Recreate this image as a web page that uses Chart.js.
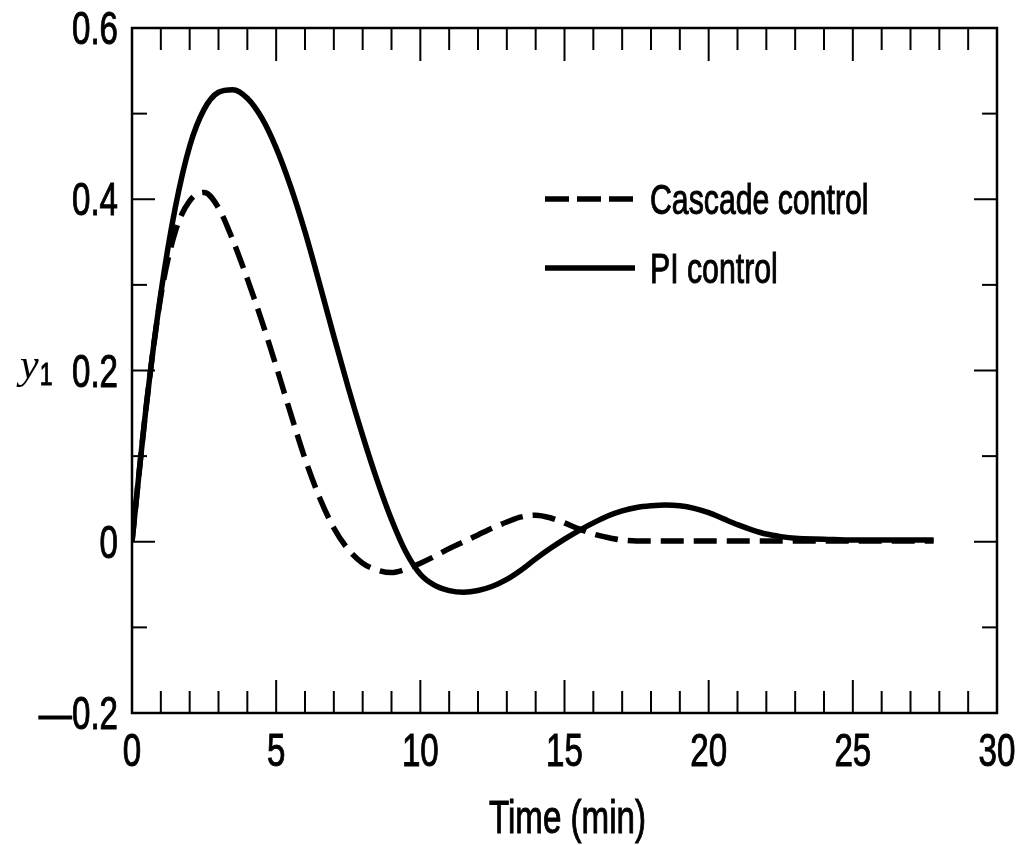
<!DOCTYPE html>
<html>
<head>
<meta charset="utf-8">
<script src="https://cdn.jsdelivr.net/npm/chart.js@4.4.1/dist/chart.umd.min.js"></script>
<style>
  html, body { margin: 0; padding: 0; background: #fff; }
  #wrap { width: 1024px; height: 845px; }
</style>
</head>
<body>
<div id="wrap"><canvas id="c" width="1024" height="845"></canvas></div>
<script>
// Response of y1 to a disturbance: cascade vs. PI control
const timeMin = [0, 0.5, 1, 1.5, 2, 2.5, 3, 3.5, 4, 4.5, 5, 5.5, 6, 6.5, 7, 7.5, 8, 8.5, 9, 9.5,
  10, 10.5, 11, 11.5, 12, 12.5, 13, 13.5, 14, 14.5, 15, 15.5, 16, 16.5, 17, 17.5, 18, 18.5, 19, 19.5,
  20, 20.5, 21, 21.5, 22, 22.5, 23, 24, 25, 26, 27, 27.8];

const piControl = [0, 0.16, 0.29, 0.39, 0.462, 0.505, 0.525, 0.528, 0.518, 0.495, 0.46, 0.415, 0.362, 0.302, 0.240, 0.180, 0.124, 0.072, 0.026, -0.012,
  -0.038, -0.051, -0.057, -0.059, -0.057, -0.052, -0.044, -0.033, -0.020, -0.008, 0.003, 0.013, 0.022, 0.030, 0.036, 0.040, 0.042, 0.043, 0.042, 0.039,
  0.034, 0.027, 0.020, 0.014, 0.009, 0.006, 0.004, 0.003, 0.002, 0.002, 0.002, 0.002];

const cascadeControl = [0, 0.16, 0.287, 0.362, 0.398, 0.408, 0.39, 0.352, 0.307, 0.258, 0.205, 0.150, 0.097, 0.052, 0.016, -0.009, -0.025, -0.033, -0.036, -0.032,
  -0.025, -0.017, -0.008, 0, 0.008, 0.016, 0.023, 0.029, 0.031, 0.028, 0.022, 0.015, 0.009, 0.005, 0.002, 0.001, 0.001, 0.001, 0.001, 0.001,
  0.001, 0.001, 0.001, 0.001, 0.001, 0.001, 0.001, 0.001, 0.001, 0.001, 0.001, 0.001];

const seriesLabels = ['Cascade control', 'PI control'];
const xTickValues = [0, 5, 10, 15, 20, 25, 30];
const xTickLabels = ['0', '5', '10', '15', '20', '25', '30'];
const yTickValues = [-0.2, 0, 0.2, 0.4, 0.6];
const yTickLabels = ['\u20140.2', '0', '0.2', '0.4', '0.6'];
const xTitle = 'Time (min)';
const yTitle = ['y', '1'];

const SANS = '"Liberation Sans", Arial, Helvetica, sans-serif';
const SERIF = '"Liberation Serif", "DejaVu Serif", serif';

const toPoints = ys => timeMin.map((t, i) => ({ x: t, y: ys[i] }));

// Narrow-set text: the face is squeezed horizontally by sx and lightly stroked for weight
function narrowText(ctx, text, x, y, align, font, sx, weight) {
  ctx.save();
  ctx.font = font;
  ctx.fillStyle = '#000';
  ctx.strokeStyle = '#000';
  ctx.textAlign = align;
  ctx.textBaseline = 'alphabetic';
  ctx.translate(x, y);
  ctx.scale(sx, 1);
  ctx.fillText(text, 0, 0);
  if (weight) {
    ctx.lineWidth = weight;
    ctx.strokeText(text, 0, 0);
  }
  ctx.restore();
}

// Ticks pointing into the plot on all four sides, plus the frame
const inwardTicks = {
  id: 'inwardTicks',
  afterDraw(chart, args, o) {
    const { ctx, chartArea: a, scales: { x, y } } = chart;
    ctx.save();
    ctx.strokeStyle = '#000';
    ctx.lineCap = 'butt';
    ctx.lineWidth = o.tickWidth;
    const seg = (x0, y0, x1, y1) => { ctx.beginPath(); ctx.moveTo(x0, y0); ctx.lineTo(x1, y1); ctx.stroke(); };
    const isMajor = (v, step) => Math.abs(v / step - Math.round(v / step)) < 1e-6;
    for (let k = 0; ; k++) {
      const v = x.min + k * o.xMinor;
      if (v > x.max + 1e-9) break;
      const px = x.getPixelForValue(v);
      const len = isMajor(v, o.xMajor) ? o.xMajorLen : o.xMinorLen;
      seg(px, a.bottom, px, a.bottom - len);
      seg(px, a.top, px, a.top + len);
    }
    for (let k = 0; ; k++) {
      const v = y.min + k * o.yMinor;
      if (v > y.max + 1e-9) break;
      const py = y.getPixelForValue(v);
      const len = isMajor(v + 1e-12, o.yMajor) ? o.yMajorLen : o.yMinorLen;
      seg(a.left, py, a.left + len, py);
      seg(a.right, py, a.right - len, py);
    }
    ctx.lineWidth = o.frameWidth;
    ctx.strokeRect(a.left, a.top, a.width, a.height);
    ctx.restore();
  }
};

// Tick labels and axis titles, placed from the scales
const axisText = {
  id: 'axisText',
  afterDraw(chart, args, o) {
    const { ctx, chartArea: a, scales: { x, y } } = chart;
    x.ticks.forEach((t, i) => {
      narrowText(ctx, xTickLabels[i], x.getPixelForValue(t.value), a.bottom + o.xLabelDrop, 'center', o.tickFont, o.sx, o.weight);
    });
    y.ticks.forEach((t, i) => {
      narrowText(ctx, yTickLabels[i], a.left - o.yLabelGap, y.getPixelForValue(t.value) + o.yLabelShift, 'right', o.tickFont, o.sx, o.weight);
    });
    narrowText(ctx, xTitle, (a.left + a.right) / 2 + o.titleShift, o.titleBaseline, 'center', o.titleFont, o.sx, o.weight);

    // y with subscript 1
    ctx.save();
    ctx.fillStyle = '#000';
    ctx.textBaseline = 'alphabetic';
    ctx.textAlign = 'left';
    ctx.font = o.symFont;
    ctx.fillText(yTitle[0], o.symX, o.symBaseline);
    const w = ctx.measureText(yTitle[0]).width;
    ctx.restore();
    narrowText(ctx, yTitle[1], o.symX + w + o.subGap, o.symBaseline + o.subDrop, 'left', o.subFont, o.sx, o.weight);
  }
};

// Legend drawn inside the plot area
const insetLegend = {
  id: 'insetLegend',
  afterDraw(chart, args, o) {
    const { ctx } = chart;
    chart.data.datasets.forEach((ds, i) => {
      const yy = o.rows[i];
      ctx.save();
      ctx.strokeStyle = ds.borderColor;
      ctx.lineWidth = ds.borderWidth;
      ctx.setLineDash(ds.borderDash && ds.borderDash.length ? o.dash : []);
      ctx.beginPath();
      ctx.moveTo(o.lineX0, yy);
      ctx.lineTo(o.lineX1, yy);
      ctx.stroke();
      ctx.restore();
      narrowText(ctx, ds.label, o.textX, yy + o.textDrop, 'left', o.font, o.sx, o.weight);
    });
  }
};

new Chart(document.getElementById('c'), {
  type: 'line',
  data: {
    datasets: [
      {
        label: seriesLabels[0],
        data: toPoints(cascadeControl),
        borderColor: '#000',
        borderWidth: 5.5,
        borderDash: [23, 10],
        pointRadius: 0,
        cubicInterpolationMode: 'monotone',
        fill: false
      },
      {
        label: seriesLabels[1],
        data: toPoints(piControl),
        borderColor: '#000',
        borderWidth: 5.5,
        borderDash: [],
        pointRadius: 0,
        cubicInterpolationMode: 'monotone',
        fill: false
      }
    ]
  },
  options: {
    responsive: false,
    animation: false,
    devicePixelRatio: 1,
    layout: { padding: { left: 0, right: 27, top: 28, bottom: 0 } },
    plugins: {
      legend: { display: false },
      tooltip: { enabled: false },
      inwardTicks: {
        tickWidth: 2, frameWidth: 2.5,
        xMinor: 1, xMajor: 5, xMinorLen: 22, xMajorLen: 33,
        yMinor: 0.1, yMajor: 0.2, yMinorLen: 15, yMajorLen: 23
      },
      axisText: {
        sx: 0.72, weight: 1,
        tickFont: '46px ' + SANS,
        titleFont: '46px ' + SANS,
        xLabelDrop: 53, yLabelGap: 14, yLabelShift: 16,
        titleBaseline: 833, titleShift: 3,
        symFont: 'italic 42px ' + SERIF, subFont: '32px ' + SANS,
        symX: 20, symBaseline: 378, subGap: 1, subDrop: 7
      },
      insetLegend: {
        rows: [199, 268], lineX0: 545, lineX1: 635, textX: 650, textDrop: 15,
        dash: [24, 8], font: '42px ' + SANS, sx: 0.72, weight: 1
      }
    },
    scales: {
      x: {
        type: 'linear',
        min: 0,
        max: 30,
        afterBuildTicks: s => { s.ticks = xTickValues.map(v => ({ value: v })); },
        afterFit: s => { s.height = 132; },
        grid: { display: false, drawTicks: false },
        border: { display: false },
        ticks: { display: false },
        title: { display: false, text: xTitle }
      },
      y: {
        type: 'linear',
        min: -0.2,
        max: 0.6,
        afterBuildTicks: s => { s.ticks = yTickValues.map(v => ({ value: v })); },
        afterFit: s => { s.width = 132; },
        grid: { display: false, drawTicks: false },
        border: { display: false },
        ticks: { display: false }
      }
    }
  },
  plugins: [inwardTicks, axisText, insetLegend]
});
</script>
</body>
</html>
